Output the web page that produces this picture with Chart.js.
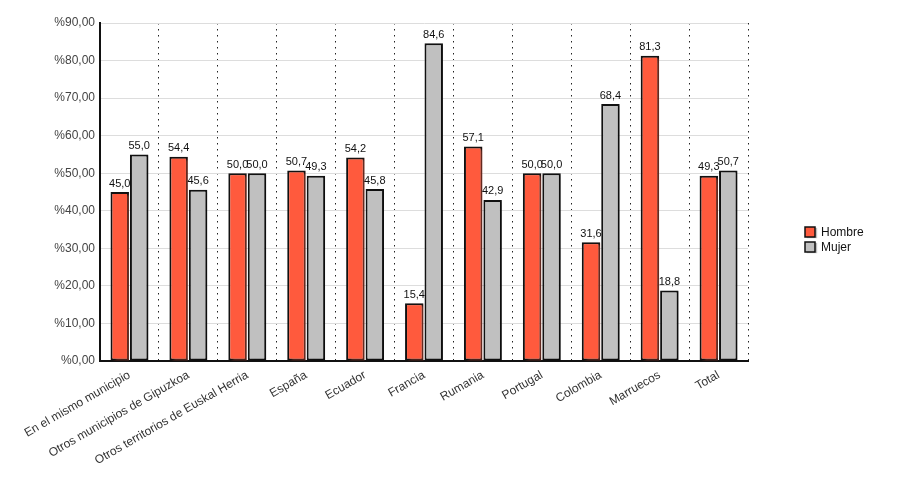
<!DOCTYPE html>
<html>
<head>
<meta charset="utf-8">
<script src="https://cdn.jsdelivr.net/npm/chart.js@4.4.0/dist/chart.umd.min.js"></script>
<style>
  html, body { margin: 0; padding: 0; background: #fff; }
  #wrap { width: 900px; height: 500px; }
</style>
</head>
<body>
<div id="wrap"><canvas id="chart" width="900" height="500"></canvas></div>
<script>
const categories = [
  'En el mismo municipio',
  'Otros municipios de Gipuzkoa',
  'Otros territorios de Euskal Herria',
  'España',
  'Ecuador',
  'Francia',
  'Rumania',
  'Portugal',
  'Colombia',
  'Marruecos',
  'Total'
];
const hombre = [45.0, 54.4, 50.0, 50.7, 54.2, 15.4, 57.1, 50.0, 31.6, 81.3, 49.3];
const mujer = [55.0, 45.6, 50.0, 49.3, 45.8, 84.6, 42.9, 50.0, 68.4, 18.8, 50.7];
const seriesNames = ['Hombre', 'Mujer'];
const yTicks = [0, 10, 20, 30, 40, 50, 60, 70, 80, 90];

const FONT = '"Liberation Sans", Arial, Helvetica, sans-serif';
const fmt = v => v.toFixed(1).replace('.', ',');

// soft shadow to the right of every bar
const barShadow = {
  id: 'barShadow',
  beforeDatasetDraw(chart, args) {
    const ctx = chart.ctx;
    ctx.save();
    ctx.shadowColor = args.index === 0 ? 'rgba(255,90,60,0.35)' : 'rgba(0,0,0,0.22)';
    ctx.shadowOffsetX = 3;
    ctx.shadowOffsetY = 1;
    ctx.shadowBlur = 2;
  },
  afterDatasetDraw(chart) {
    chart.ctx.restore();
  }
};

// value labels on top of bars
const valueLabels = {
  id: 'valueLabels',
  afterDatasetsDraw(chart) {
    const ctx = chart.ctx;
    ctx.save();
    ctx.font = '11px ' + FONT;
    ctx.fillStyle = '#111';
    ctx.textAlign = 'center';
    ctx.textBaseline = 'bottom';
    chart.data.datasets.forEach((ds, i) => {
      chart.getDatasetMeta(i).data.forEach((bar, j) => {
        ctx.fillText(fmt(ds.data[j]), bar.x, bar.y - 3);
      });
    });
    ctx.restore();
  }
};

// legend on the right
const sideLegend = {
  id: 'sideLegend',
  afterDraw(chart) {
    const ctx = chart.ctx;
    ctx.save();
    chart.data.datasets.forEach((ds, i) => {
      const x = 805, y = 227 + i * 15;
      ctx.shadowColor = 'rgba(0,0,0,0.25)';
      ctx.shadowOffsetX = 2;
      ctx.shadowOffsetY = 1;
      ctx.shadowBlur = 1;
      ctx.fillStyle = ds.backgroundColor;
      ctx.fillRect(x, y, 10, 10);
      ctx.shadowColor = 'transparent';
      ctx.lineWidth = 1.5;
      ctx.strokeStyle = '#111';
      ctx.strokeRect(x, y, 10, 10);
      ctx.fillStyle = '#111';
      ctx.font = '12px ' + FONT;
      ctx.textBaseline = 'middle';
      ctx.textAlign = 'left';
      ctx.fillText(ds.label, x + 16, y + 5.5);
    });
    ctx.restore();
  }
};

new Chart(document.getElementById('chart'), {
  type: 'bar',
  data: {
    labels: categories,
    datasets: [
      {
        label: seriesNames[0],
        data: hombre,
        backgroundColor: '#ff5a3d',
        borderColor: '#111',
        borderWidth: 2,
        borderSkipped: false,
        categoryPercentage: 0.66,
        barPercentage: 0.95
      },
      {
        label: seriesNames[1],
        data: mujer,
        backgroundColor: '#c0c0c0',
        borderColor: '#111',
        borderWidth: 2,
        borderSkipped: false,
        categoryPercentage: 0.66,
        barPercentage: 0.95
      }
    ]
  },
  options: {
    responsive: false,
    animation: false,
    layout: { padding: { top: 23, right: 152, left: 0, bottom: 0 } },
    plugins: {
      legend: { display: false },
      tooltip: { enabled: false }
    },
    scales: {
      x: {
        offset: true,
        grid: {
          offset: true,
          color: '#222',
          lineWidth: 1,
          drawTicks: false
        },
        border: { display: true, color: '#111', width: 2, dash: [1.5, 4.5] },
        ticks: {
          minRotation: 30,
          maxRotation: 30,
          autoSkip: false,
          padding: 7,
          color: '#333',
          font: { family: FONT, size: 12 }
        },
        afterFit(scale) { scale.height = 139; }
      },
      y: {
        min: 0,
        max: 90,
        afterBuildTicks(scale) { scale.ticks = yTicks.map(v => ({ value: v })); },
        grid: { color: '#dddddd', lineWidth: 1, drawTicks: false },
        border: { display: true, color: '#111', width: 2 },
        ticks: {
          padding: 5,
          color: '#444',
          font: { family: FONT, size: 12 },
          callback: v => '%' + v.toFixed(2).replace('.', ',')
        },
        afterFit(scale) { scale.width = 100; }
      }
    }
  },
  plugins: [barShadow, valueLabels, sideLegend]
});
</script>
</body>
</html>
